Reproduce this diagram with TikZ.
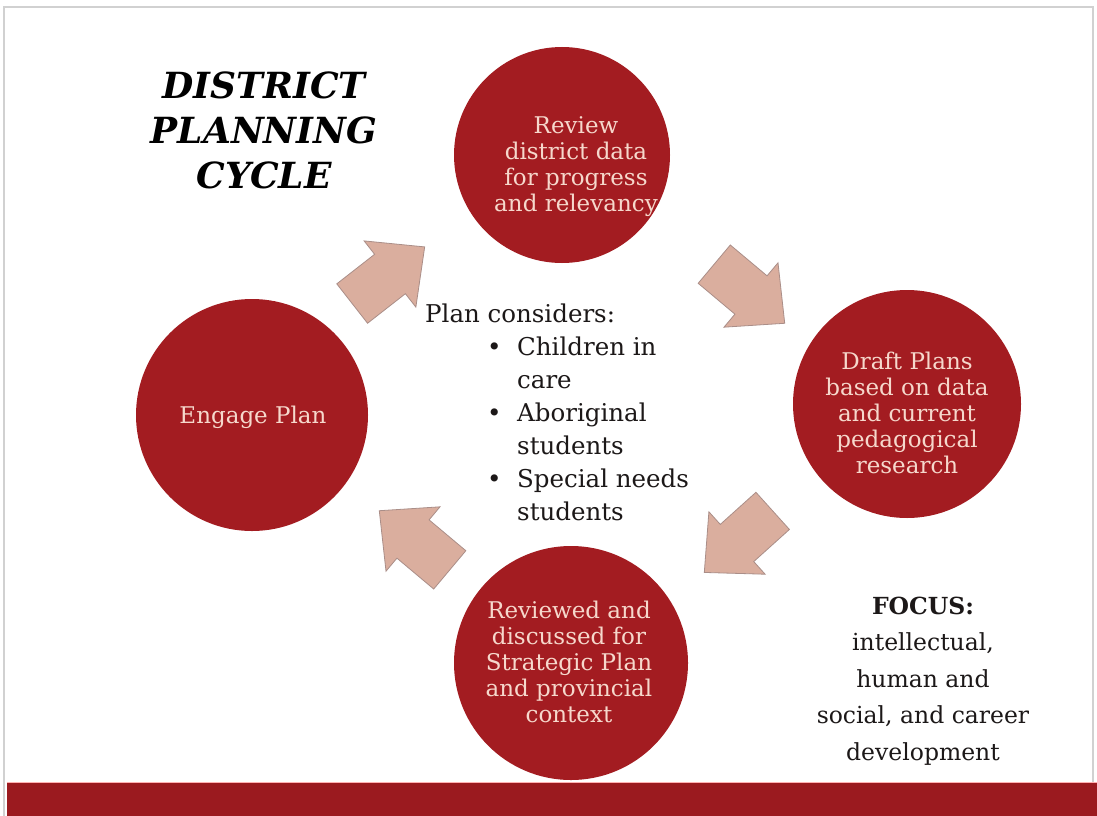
\documentclass[tikz,border=0pt]{standalone}
\usepackage{fontspec}
\setmainfont{DejaVu Serif}
\definecolor{circred}{RGB}{163,28,33}
\definecolor{barred}{RGB}{155,26,31}
\definecolor{circtext}{RGB}{246,216,204}
\definecolor{arrfill}{RGB}{218,174,158}
\definecolor{arredge}{RGB}{170,142,136}
\definecolor{bodytext}{RGB}{28,24,24}
\tikzset{
  stage/.style={circle, fill=circred, draw=none, inner sep=0pt},
  stagetext/.style={text=circtext, align=center, inner sep=0pt, font=\fontsize{23}{26}\selectfont},
  blockarrow/.style={fill=arrfill, draw=arredge, line width=0.8pt, line join=miter},
  plaintext/.style={text=bodytext, inner sep=0pt}
}
\newcommand{\blockarr}{(-48,-25) -- (0,-25) -- (0,-42) -- (44,0) -- (0,42) -- (0,25) -- (-48,25) -- cycle}
\begin{document}
\begin{tikzpicture}[x=1pt,y=-1pt]
\useasboundingbox (0,0) rectangle (1097,816);
\fill[white] (0,0) rectangle (1097,816);
\draw[black!18, line width=1.5pt] (4,816) -- (4,7) -- (1093,7) -- (1093,816);

% circles
\node[stage, minimum size=216pt] (review) at (562,155) {};
\node[stage, minimum size=228pt] (draft) at (907,404) {};
\node[stage, minimum size=234pt] (discuss) at (571,663) {};
\node[stage, minimum size=232pt] (engage) at (252,415) {};

% circle texts
\node[stagetext] (reviewtxt) at (576,167) {Review\\district data\\for progress\\and relevancy};
\node[stagetext] (drafttxt) at (907,413) {Draft Plans\\based on data\\and current\\pedagogical\\research};
\node[stagetext] (discusstxt) at (569,662) {Reviewed and\\discussed for\\Strategic Plan\\and provincial\\context};
\node[stagetext] (engagetxt) at (253,417) {Engage Plan};

% block arrows
\begin{scope}[shift={(390,274)}, rotate=38]
  \draw[blockarrow] \blockarr;
\end{scope}
\begin{scope}[shift={(751,295)}, rotate=-40]
  \draw[blockarrow] \blockarr;
\end{scope}
\begin{scope}[shift={(737,543)}, rotate=-138]
  \draw[blockarrow] \blockarr;
\end{scope}
\begin{scope}[shift={(413,539)}, rotate=140]
  \draw[blockarrow] \blockarr;
\end{scope}

% title
\node[plaintext, align=center, text=black, font=\fontsize{36}{45}\selectfont\bfseries\itshape] (title) at (264,130) {DISTRICT\\PLANNING\\CYCLE};

% center text
\node[plaintext, anchor=base west, font=\fontsize{24.5}{33}\selectfont] (considers) at (425,322) {Plan considers:};
\node[plaintext, anchor=base west, font=\fontsize{24.5}{33}\selectfont] (list) at (487,355)
  {\begin{tabular}[t]{@{}p{30pt}@{}l@{}}
   \textbullet & Children in\\
               & care\\
   \textbullet & Aboriginal\\
               & students\\
   \textbullet & Special needs\\
               & students
   \end{tabular}};

% focus text
\node[plaintext, align=center, font=\fontsize{23.5}{36.5}\selectfont] (focus) at (923,681)
  {\textbf{FOCUS:}\\intellectual,\\human and\\social, and career\\development};

% bottom bar
\fill[barred] (7,782) rectangle (1097,816);
\draw[red!30, line width=0.8pt] (7,782) -- (1097,782);
\end{tikzpicture}
\end{document}
